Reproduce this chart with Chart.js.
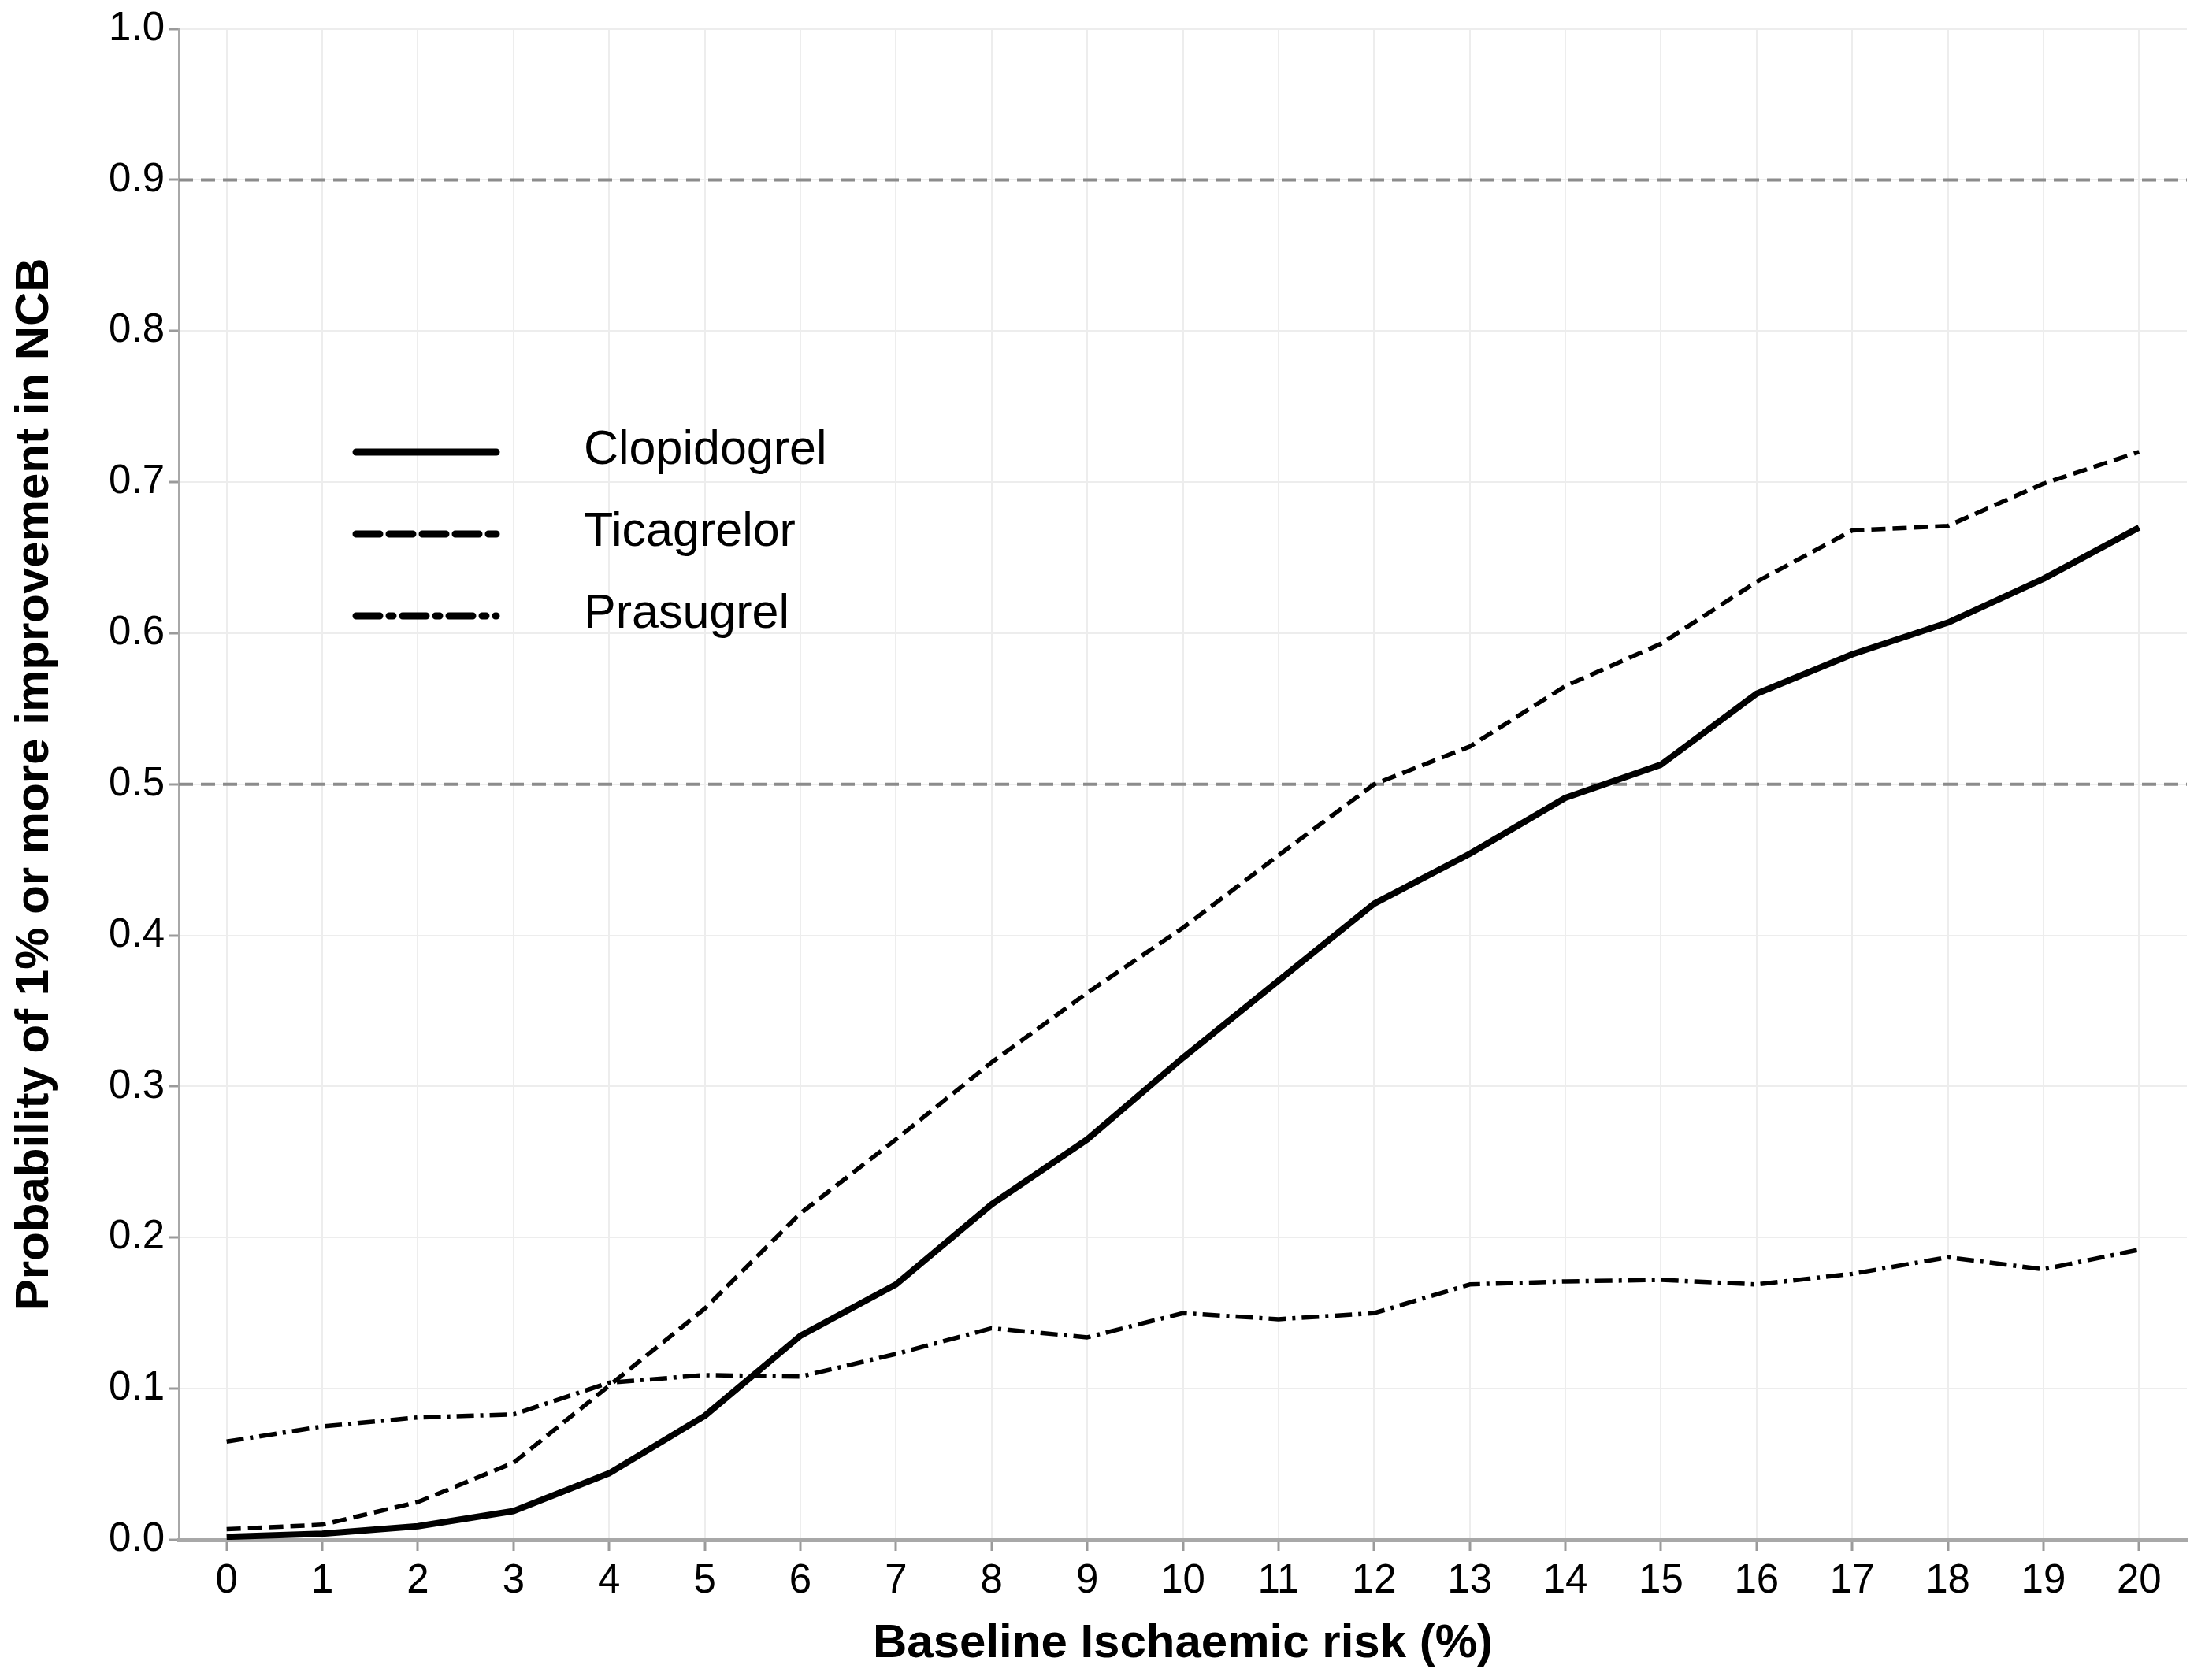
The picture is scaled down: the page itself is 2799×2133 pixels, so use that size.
<!DOCTYPE html>
<html>
<head>
<meta charset="utf-8">
<script src="https://cdn.jsdelivr.net/npm/chart.js@4.4.1/dist/chart.umd.min.js"></script>
<style>
  html, body { margin: 0; padding: 0; background: #fff; }
  #wrap { width: 2799px; height: 2133px; }
</style>
</head>
<body>
<div id="wrap"><canvas id="chart" width="2799" height="2133"></canvas></div>
<script>
const xLabels = [0, 1, 2, 3, 4, 5, 6, 7, 8, 9, 10, 11, 12, 13, 14, 15, 16, 17, 18, 19, 20];
const yTicks = [0, 0.1, 0.2, 0.3, 0.4, 0.5, 0.6, 0.7, 0.8, 0.9, 1.0];

const clopidogrel = [0.002, 0.004, 0.009, 0.019, 0.044, 0.082, 0.135, 0.169, 0.222, 0.265, 0.319,
  0.370, 0.421, 0.454, 0.491, 0.513, 0.560, 0.586, 0.607, 0.636, 0.670];
const ticagrelor = [0.007, 0.010, 0.025, 0.051, 0.102, 0.153, 0.216, 0.265, 0.316, 0.362, 0.405,
  0.453, 0.500, 0.525, 0.565, 0.593, 0.634, 0.668, 0.671, 0.699, 0.720];
const prasugrel = [0.065, 0.075, 0.081, 0.083, 0.104, 0.109, 0.108, 0.123, 0.140, 0.134, 0.150,
  0.146, 0.150, 0.169, 0.171, 0.172, 0.169, 0.176, 0.187, 0.179, 0.192];

const refLevels = [0.9, 0.5];

const xMin = -0.5, xMax = 20.5;
const FONT = "'Liberation Sans', Arial, Helvetica, sans-serif";

const toPoints = arr => arr.map((v, i) => ({ x: xLabels[i], y: v }));

const series = [
  { label: "Clopidogrel", data: clopidogrel, width: 8, dash: [], legendDash: [] },
  { label: "Ticagrelor", data: ticagrelor, width: 5.5, dash: [18, 9], legendDash: [30, 12] },
  { label: "Prasugrel", data: prasugrel, width: 5.5, dash: [22, 8, 4, 8], legendDash: [30, 12, 5, 12] }
];

const datasets = series.map(s => ({
  label: s.label,
  data: toPoints(s.data),
  borderColor: "#000",
  borderWidth: s.width,
  borderDash: s.dash,
  legendDash: s.legendDash,
  pointRadius: 0,
  tension: 0,
  fill: false,
  borderJoinStyle: "round"
}));

refLevels.forEach(v => {
  datasets.push({
    label: "ref" + v,
    isRef: true,
    data: [{ x: xMin, y: v }, { x: xMax, y: v }],
    borderColor: "#8c8c8c",
    borderWidth: 4,
    borderDash: [18, 10],
    pointRadius: 0,
    fill: false
  });
});

// legend drawn inside the plot, upper left
const legendInside = {
  id: "legendInside",
  afterDatasetsDraw(chart) {
    const ctx = chart.ctx;
    const rows = chart.data.datasets.filter(d => !d.isRef);
    const x0 = 452, x1 = 630, tx = 741, y0 = 574, gap = 104;
    ctx.save();
    rows.forEach((d, i) => {
      const y = y0 + i * gap;
      ctx.beginPath();
      ctx.setLineDash(d.legendDash);
      ctx.lineWidth = 9;
      ctx.lineCap = "round";
      ctx.strokeStyle = "#000";
      ctx.moveTo(x0, y);
      ctx.lineTo(x1, y);
      ctx.stroke();
      ctx.setLineDash([]);
      ctx.fillStyle = "#000";
      ctx.font = "61px " + FONT;
      ctx.textAlign = "left";
      ctx.textBaseline = "middle";
      ctx.fillText(d.label, tx, y - 2);
    });
    ctx.restore();
  }
};

new Chart(document.getElementById("chart"), {
  type: "line",
  data: { datasets },
  plugins: [legendInside],
  options: {
    responsive: false,
    animation: false,
    layout: { padding: { left: 0, right: 23, top: 36, bottom: 0 } },
    plugins: {
      legend: { display: false },
      tooltip: { enabled: false }
    },
    scales: {
      x: {
        type: "linear",
        min: xMin,
        max: xMax,
        afterBuildTicks: scale => { scale.ticks = xLabels.map(v => ({ value: v })); },
        afterFit: scale => { scale.height = 178; },
        ticks: {
          color: "#000",
          font: { family: FONT, size: 51 },
          padding: 8,
          maxRotation: 0,
          autoSkip: false,
          callback: v => String(v)
        },
        grid: {
          color: "#ededed",
          lineWidth: 2,
          borderDash: [3, 5],
          tickColor: "#9a9a9a",
          tickLength: 14,
          tickWidth: 3,
          tickBorderDash: []
        },
        border: { display: true, color: "#a8a8a8", width: 5 },
        title: {
          display: true,
          text: "Baseline Ischaemic risk (%)",
          color: "#000",
          font: { family: FONT, size: 60, weight: "bold" },
          padding: { top: 0, bottom: 10 }
        }
      },
      y: {
        type: "linear",
        min: 0,
        max: 1,
        afterBuildTicks: scale => { scale.ticks = yTicks.map(v => ({ value: v })); },
        afterFit: scale => { scale.width = 227; },
        ticks: {
          color: "#000",
          font: { family: FONT, size: 51 },
          padding: 6,
          callback: v => Number(v).toFixed(1)
        },
        grid: {
          color: "#ededed",
          lineWidth: 2,
          borderDash: [3, 5],
          tickColor: "#9a9a9a",
          tickLength: 12,
          tickWidth: 3,
          tickBorderDash: []
        },
        border: { display: true, color: "#a8a8a8", width: 3 },
        title: {
          display: true,
          text: "Probability of 1% or more improvement in NCB",
          color: "#000",
          font: { family: FONT, size: 60, weight: "bold" },
          padding: { top: 8, bottom: 0 }
        }
      }
    }
  }
});
</script>
</body>
</html>
